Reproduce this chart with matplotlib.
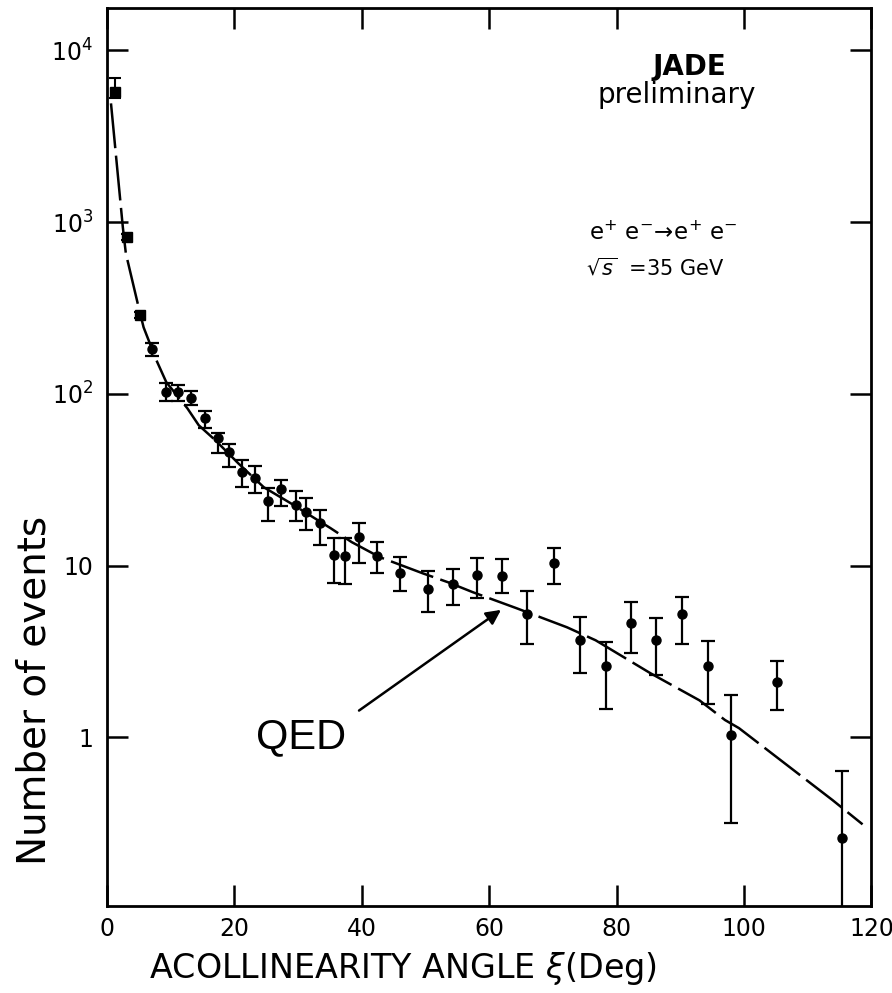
import numpy as np
import matplotlib.pyplot as plt
from matplotlib.ticker import FixedLocator, FixedFormatter

# acollinearity bins (deg) and event counts
xi = [1.3, 3.2, 5.1, 7.1, 9.3, 11.2, 13.2, 15.3, 17.4, 19.1, 21.2, 23.3, 25.3,
      27.3, 29.6, 31.3, 33.5, 35.7, 37.4, 39.5, 42.3, 46.0, 50.4, 54.3, 58.0,
      62.0, 66.0, 70.2, 74.3, 78.3, 82.2, 86.2, 90.2, 94.4, 98.0, 105.1, 115.3]
events = [5710, 817, 287, 182, 102, 102, 94, 72, 55, 45.7, 35, 32.2, 23.7,
          27.8, 22.5, 20.4, 17.6, 11.5, 11.3, 14.6, 11.3, 9.1, 7.3, 7.8, 8.8,
          8.7, 5.2, 10.4, 3.67, 2.59, 4.6, 3.67, 5.2, 2.59, 1.03, 2.09, 0.258]
err_hi = [6890, 850, 300, 197, 115, 112, 103.5, 79, 59, 50.8, 41, 37.9, 28.2,
          31.4, 27.1, 24.7, 21, 14.4, 14.4, 17.6, 13.8, 11.2, 9.3, 9.6, 11.0,
          10.9, 7.1, 12.6, 5.0, 3.57, 6.1, 4.93, 6.6, 3.62, 1.76, 2.77, 0.634]
err_lo = [5300, 785, 275, 166, 90.5, 90.5, 86, 63, 45, 37.4, 28.6, 26.4, 18.1,
          22.1, 18.1, 16.1, 13.1, 7.9, 7.8, 10.3, 9.1, 7.1, 5.35, 5.9, 6.5,
          6.9, 3.5, 7.8, 2.36, 1.46, 3.08, 2.3, 3.5, 1.56, 0.316, 1.44, 0.05]

# QED prediction curve
qed_x = [0.62, 2.48, 2.95, 4.96, 5.74, 7.75, 9.3, 12.6, 14.4, 17.0, 20.6, 24.6,
         28.8, 35.1, 38.4, 42.8, 49.6, 53.5, 57.4, 64.3, 72.2, 76.7, 85.3,
         93.0, 97.0, 99.2, 113.9, 118.6]
qed_y = [4920, 934, 659, 319, 244, 157, 117, 82.5, 65.6, 53.7, 39.4, 28.6,
         23.1, 16.5, 13.7, 11.2, 9.0, 8.0, 7.0, 5.64, 4.37, 3.67, 2.36,
         1.64, 1.26, 1.13, 0.43, 0.311]

ytick_vals = [1, 10, 100, 1000, 10000]
ytick_labels = ['1', '10', r'$10^2$', r'$10^3$', r'$10^4$']
xtick_vals = [0, 20, 40, 60, 80, 100, 120]

plt.rcParams['font.family'] = ['DejaVu Sans']
plt.rcParams['mathtext.fontset'] = 'dejavusans'

fig = plt.figure(figsize=(8.92, 9.93), dpi=100)
ax = fig.add_axes([0.12, 0.0876, 0.857, 0.904])

x = np.array(xi)
y = np.array(events)
yerr = np.array([y - np.array(err_lo), np.array(err_hi) - y])

# first three bins drawn as squares, the rest as dots
ax.errorbar(x[:3], y[:3], yerr=yerr[:, :3], fmt='s', color='k', ms=7,
            elinewidth=1.5, capsize=4, capthick=1.5)
ax.errorbar(x[3:], y[3:], yerr=yerr[:, 3:], fmt='o', color='k', ms=6.5,
            elinewidth=1.6, capsize=5, capthick=1.6)

ax.plot(qed_x, qed_y, color='k', lw=1.8, linestyle=(0, (18, 3)))

ax.set_yscale('log')
ax.set_xlim(0, 120)
ax.set_ylim(0.104, 17600)

ax.yaxis.set_major_locator(FixedLocator(ytick_vals))
ax.yaxis.set_major_formatter(FixedFormatter(ytick_labels))
ax.yaxis.set_minor_locator(FixedLocator([]))
ax.set_xticks(xtick_vals)
ax.tick_params(which='major', direction='in', length=15, width=1.8,
               top=True, right=True, labelsize=17)
ax.tick_params(axis='x', pad=8)
ax.tick_params(axis='y', pad=10)
for s in ax.spines.values():
    s.set_linewidth(2)

ax.text(0.762, 0.935, 'JADE', transform=ax.transAxes, ha='center', va='center',
        fontsize=20, fontweight='bold')
ax.text(0.745, 0.903, 'preliminary', transform=ax.transAxes, ha='center',
        va='center', fontsize=20)
ax.text(0.728, 0.75, r'$\mathrm{e^{+}\ e^{-}\!\rightarrow\! e^{+}\ e^{-}}$',
        transform=ax.transAxes, ha='center', va='center', fontsize=16.5)
ax.text(0.627, 0.71, r'$\sqrt{s}$  =35 GeV', transform=ax.transAxes,
        ha='left', va='center', fontsize=15)

ax.text(37.5, 1.0, 'QED', ha='right', va='center', fontsize=30,
        family='Liberation Sans')
ax.annotate('', xy=(62.2, 5.64), xytext=(39.2, 1.40),
            arrowprops=dict(arrowstyle='-|>', color='k', lw=1.8,
                            mutation_scale=22))

fig.text(0.039, 0.305, 'Number of events', rotation=90, ha='center',
         va='center', fontsize=28)
fig.text(0.452, 0.025, r'ACOLLINEARITY ANGLE $\xi$(Deg)', ha='center',
         va='center', fontsize=24)

plt.savefig('out.png', dpi=100)
